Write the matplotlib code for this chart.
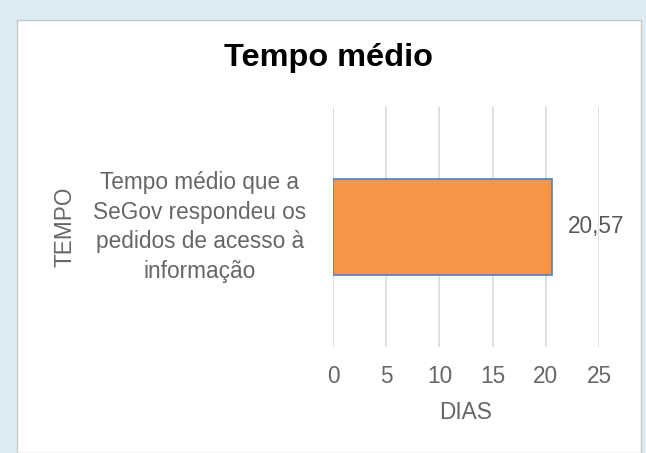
import matplotlib.pyplot as plt
from matplotlib.patches import Rectangle

plt.rcParams["font.family"] = ["Liberation Sans", "DejaVu Sans"]

categories = ["Tempo médio que a\nSeGov respondeu os\npedidos de acesso à\ninformação"]
values = [20.57]
value_labels = ["20,57"]
xticks = [0, 5, 10, 15, 20, 25]

grey = "#666666"
fs = 16.3

fig = plt.figure(figsize=(6.46, 4.53), dpi=100)
fig.patch.set_facecolor("#dcebf4")

# white chart panel (behind the axes)
panel = Rectangle((17 / 646, 0), (641 - 17) / 646, (453 - 20) / 453,
                  transform=fig.transFigure, facecolor="white",
                  edgecolor="#c8c8c8", linewidth=1, zorder=-10)
fig.patches.append(panel)

ax = fig.add_axes([333 / 646, 1 - 347 / 453, (599 - 333) / 646, (347 - 107) / 453])
ax.set_facecolor("none")

ax.barh(range(len(values)), values, height=0.4, color="#f79646",
        edgecolor="#4f81bd", linewidth=1.2, zorder=3)
for i, (v, lab) in enumerate(zip(values, value_labels)):
    ax.text(v + 1.5, i, lab, va="center", ha="left", fontsize=fs, color="#595959")

ax.set_xlim(0, 25)
ax.set_ylim(-0.5, 0.5)
ax.set_xticks(xticks)
ax.set_xticklabels([str(t) for t in xticks], fontsize=fs, color=grey)
ax.tick_params(axis="x", length=0, pad=13)
ax.set_yticks([])
ax.grid(axis="x", color="#d9d9d9", linewidth=1.2, zorder=0)
for s in ax.spines.values():
    s.set_visible(False)

ax.set_xlabel("DIAS", fontsize=fs, color=grey, labelpad=9)

fig.text(200 / 646, 1 - 227 / 453, categories[0], ha="center", va="center",
         fontsize=fs, color=grey, linespacing=1.38)
fig.text(65 / 646, 1 - 227 / 453, "TEMPO", rotation=90, ha="center",
         va="center", fontsize=fs, color=grey)
fig.text(328 / 646, 1 - 58 / 453, "Tempo médio", ha="center", va="center",
         fontsize=23.4, fontweight="bold", color="black")

fig.savefig("out.png", dpi=100)
